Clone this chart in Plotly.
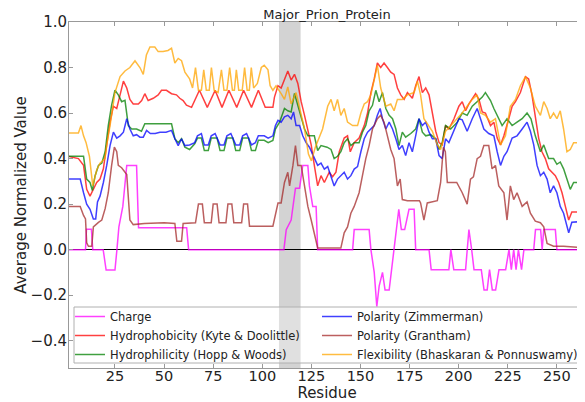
import plotly.graph_objects as go

# ---------------- data ----------------
title_text = "Major_Prion_Protein"
x_ticks = [25, 50, 75, 100, 125, 150, 175, 200, 225, 250]
y_ticks = [-0.4, -0.2, 0.0, 0.2, 0.4, 0.6, 0.8, 1.0]
y_tick_labels = ["\u22120.4", "\u22120.2", "0.0", "0.2", "0.4", "0.6", "0.8", "1.0"]
highlight_region = [108.5, 119.5]

charge_x = [1, 10, 10.5, 13, 13.7, 19, 20.5, 25, 26, 27, 29, 30, 31, 36, 37, 61.5, 62.5,
            111, 112.2, 114.7, 116.9, 119, 120.6, 123.2, 124, 125.7, 127.4, 128.2, 146, 146.8,
            154.4, 155.3, 157, 158.3, 159.5, 161.2, 162.5, 164.6, 167.1, 169.5, 170.8, 172.5,
            174.7, 177.3, 178.1, 184.9, 186, 195, 196, 197.5, 203.5, 205.2, 206.6, 207.8, 211.5,
            212.9, 214.5, 215.7, 217.1, 218.8, 220.5, 223.9, 225.6, 226.8, 228, 229.2, 230.4,
            232, 233.2, 238.2, 239.1, 241.7, 242.5, 243.3, 249.2, 250, 264.3]
charge_y = [0, 0, 0.09, 0.09, 0, 0, -0.09, -0.09, 0, 0.10, 0.19, 0.28, 0.37, 0.37, 0.096, 0.096, 0,
            0, 0.088, 0.13, 0.27, 0.27, 0.37, 0.37, 0.28, 0.19, 0.19, 0, 0, 0.088,
            0.088, 0, -0.10, -0.25, -0.16, -0.10, -0.177, -0.177, 0, 0.177, 0.088, 0.088,
            0.177, 0.177, 0, 0, -0.088, -0.088, 0, -0.088, -0.088, 0.088, 0, -0.088, -0.088,
            -0.177, -0.177, -0.088, -0.177, -0.177, -0.088, -0.088, 0, -0.088, 0, -0.088, 0,
            -0.088, 0, 0, 0.088, 0.088, 0, 0.088, 0.088, 0, 0]

hydrophobicity_x = [1, 6.4, 9, 10.6, 12.3, 14, 15.7, 17.4, 19.1, 20.8, 22.5, 24.2, 25.9, 27.6,
                    29.3, 31, 32.6, 34.3, 36.9, 38.6, 40.2, 41.9, 44.5, 47, 48.7, 51.2, 53.8,
                    56.3, 58, 59.7, 61.4, 64, 68, 72, 76, 79.5, 83, 87, 90.5, 94.5, 98, 101.5,
                    105.4, 106.2, 108, 109.6, 111.3, 113, 114.7, 116.4, 118.1, 119.8, 121.5,
                    123.2, 124.9, 126.5, 128.2, 129.9, 131.6, 134.1, 135.8, 137.5, 139.2, 141.7,
                    143.4, 144.8, 146.8, 149.3, 151.9, 153.6, 155.3, 157, 158.6, 160.3, 162,
                    163.7, 165.4, 167.1, 168.8, 170.5, 172.2, 173.9, 176.4, 178.1, 179.8, 181.5,
                    183.2, 184.9, 186.6, 188.3, 190, 191.6, 193.3, 195, 197.6, 200.1, 201.8,
                    203.5, 205.2, 206.9, 208.6, 210.3, 212, 213.6, 216.2, 217.9, 219.6, 221.3,
                    223, 225.5, 227.2, 228.9, 231.4, 234, 235.6, 237.3, 239, 240.7, 242.4, 244.1,
                    245.8, 247.5, 249.2, 250.9, 252.6, 254.3, 256, 257.6, 264.3]
hydrophobicity_y = [0.41, 0.40, 0.37, 0.265, 0.235, 0.265, 0.295, 0.31, 0.355, 0.46, 0.56, 0.63,
                    0.62, 0.68, 0.74, 0.71, 0.66, 0.64, 0.64, 0.655, 0.685, 0.655, 0.665, 0.68,
                    0.70, 0.70, 0.685, 0.68, 0.665, 0.655, 0.635, 0.625, 0.70, 0.625, 0.70, 0.625,
                    0.70, 0.625, 0.70, 0.625, 0.70, 0.625, 0.625, 0.67, 0.72, 0.71, 0.75, 0.785,
                    0.745, 0.77, 0.73, 0.65, 0.59, 0.52, 0.46, 0.37, 0.28, 0.325, 0.295, 0.34,
                    0.32, 0.34, 0.43, 0.49, 0.50, 0.43, 0.47, 0.49, 0.545, 0.60, 0.69, 0.75, 0.82,
                    0.80, 0.82, 0.80, 0.78, 0.77, 0.71, 0.68, 0.66, 0.69, 0.665, 0.72, 0.76, 0.69,
                    0.71, 0.68, 0.59, 0.52, 0.47, 0.46, 0.545, 0.53, 0.575, 0.63, 0.65, 0.61, 0.64,
                    0.66, 0.685, 0.66, 0.605, 0.60, 0.545, 0.56, 0.49, 0.46, 0.50, 0.575, 0.63,
                    0.65, 0.69, 0.76, 0.75, 0.68, 0.575, 0.49, 0.43, 0.40, 0.355, 0.34, 0.325,
                    0.295, 0.25, 0.19, 0.13, 0.165, 0.165]

hydrophilicity_x = [1, 9, 10.6, 12.3, 13.5, 14.9, 16.6, 18.3, 20, 21.6, 23.3, 25, 26.7, 28.4,
                    30.1, 31.8, 33.5, 36, 38.5, 40.2, 53.8, 55.5, 57.2, 58.9, 60.6, 63, 65.6,
                    67, 69, 70.5, 72.5, 74, 77, 78.5, 80.5, 82, 85, 86.5, 88.5, 90, 93, 94.5,
                    96.5, 98, 101, 103, 105.4, 106.7, 108.8, 111.3, 113, 114.7, 116.4, 118.1,
                    119.8, 121.5, 123.2, 126.5, 128.2, 129.9, 133, 135, 136.6, 138.3, 140,
                    141.7, 143.4, 145.1, 146.8, 149.3, 151, 152.7, 154.4, 156.1, 157.8, 159.5,
                    161.2, 162.9, 164.6, 166.3, 168, 169.6, 171.3, 173, 175.6, 178.1, 179.8,
                    181.5, 183.2, 185.7, 188.3, 190, 191.6, 193.3, 195.9, 199.3, 201.8, 204.3,
                    206.9, 209.4, 212, 213.6, 216.2, 217.9, 220.4, 222.1, 224.6, 227.2, 229.7,
                    232.3, 234.8, 236.8, 239, 241.6, 243.3, 245.8, 248.3, 250, 251.7, 253.4,
                    255.1, 256.8, 258.5, 264.3]
hydrophilicity_y = [0.41, 0.41, 0.31, 0.295, 0.26, 0.325, 0.37, 0.38, 0.43, 0.545, 0.635, 0.70,
                    0.68, 0.65, 0.656, 0.545, 0.53, 0.53, 0.52, 0.553, 0.553, 0.487, 0.47, 0.487,
                    0.45, 0.44, 0.465, 0.49, 0.49, 0.435, 0.435, 0.49, 0.49, 0.435, 0.435, 0.49,
                    0.49, 0.435, 0.435, 0.49, 0.49, 0.435, 0.435, 0.48, 0.48, 0.47, 0.48, 0.53,
                    0.56, 0.62, 0.61, 0.605, 0.686, 0.634, 0.575, 0.53, 0.50, 0.50, 0.435, 0.457,
                    0.45, 0.44, 0.40, 0.41, 0.43, 0.47, 0.487, 0.457, 0.47, 0.47, 0.516, 0.545,
                    0.61, 0.634, 0.70, 0.65, 0.69, 0.62, 0.59, 0.575, 0.53, 0.457, 0.516, 0.494,
                    0.51, 0.53, 0.575, 0.516, 0.50, 0.505, 0.487, 0.44, 0.47, 0.545, 0.53, 0.56,
                    0.60, 0.59, 0.63, 0.65, 0.67, 0.69, 0.655, 0.62, 0.575, 0.545, 0.575, 0.545,
                    0.56, 0.575, 0.60, 0.575, 0.50, 0.43, 0.46, 0.40, 0.40, 0.375, 0.385, 0.355,
                    0.31, 0.265, 0.295, 0.295]

polarity_z_x = [1, 7.3, 9, 10.6, 12.3, 14, 15.2, 16.1, 17.4, 19.1, 20.8, 22.5, 24.2, 25.9, 27.6,
                29.3, 31, 32.6, 34.3, 36, 37.7, 39.4, 41.1, 43, 45.5, 47.9, 51, 53.8, 55.5, 57.2,
                58.9, 60.6, 63, 65.6, 67, 69, 70.5, 72.5, 74, 76, 77, 78.5, 80.5, 82, 84, 86.5,
                88.5, 90, 92, 94.5, 96.5, 98, 101, 103, 105.4, 106.7, 108, 109.6, 111.3, 113,
                114.7, 115.9, 117.2, 119, 120.6, 122.3, 124, 126, 128.2, 129.9, 131.6, 133.3,
                135, 136.6, 138.3, 140, 141.7, 143.4, 145.1, 146.8, 148.5, 150.2, 151.9, 153.6,
                155.3, 157, 158.6, 160, 161.2, 162.9, 164.6, 166.3, 168, 169.6, 171.3, 173,
                174.7, 176.4, 178.1, 179.8, 181.5, 183.2, 184.9, 186.6, 188.3, 190, 191.6,
                193.3, 195, 197.6, 200.1, 201.8, 204.3, 206.9, 209.4, 211.1, 212.8, 215.3,
                217.9, 219.6, 221.3, 223, 224.6, 227.2, 229.7, 232.3, 234.8, 236.5, 238.2,
                239.9, 241.6, 243.3, 245, 246.6, 248.3, 250, 251.7, 253.4, 256, 257.6, 264.3]
polarity_z_y = [0.31, 0.31, 0.25, 0.20, 0.177, 0.135, 0.135, 0.21, 0.235, 0.295, 0.37, 0.457,
                0.516, 0.49, 0.50, 0.516, 0.575, 0.53, 0.50, 0.505, 0.494, 0.494, 0.524, 0.51,
                0.51, 0.516, 0.516, 0.524, 0.487, 0.457, 0.487, 0.457, 0.46, 0.47, 0.50, 0.51,
                0.46, 0.46, 0.50, 0.51, 0.49, 0.46, 0.46, 0.50, 0.51, 0.46, 0.46, 0.50, 0.51,
                0.46, 0.47, 0.50, 0.50, 0.49, 0.50, 0.545, 0.568, 0.56, 0.583, 0.59, 0.575,
                0.605, 0.545, 0.545, 0.50, 0.47, 0.45, 0.41, 0.37, 0.38, 0.354, 0.365, 0.324,
                0.28, 0.31, 0.325, 0.34, 0.31, 0.325, 0.354, 0.365, 0.43, 0.487, 0.516, 0.53,
                0.545, 0.59, 0.62, 0.575, 0.53, 0.56, 0.53, 0.487, 0.44, 0.457, 0.413, 0.47,
                0.43, 0.50, 0.575, 0.545, 0.56, 0.516, 0.487, 0.487, 0.413, 0.40, 0.487, 0.47,
                0.52, 0.575, 0.57, 0.52, 0.575, 0.62, 0.575, 0.53, 0.51, 0.50, 0.43, 0.37,
                0.41, 0.43, 0.49, 0.50, 0.53, 0.56, 0.52, 0.46, 0.37, 0.325, 0.34, 0.31, 0.25,
                0.28, 0.25, 0.19, 0.16, 0.074, 0.12, 0.125]

polarity_g_x = [1, 7.3, 9, 10, 10.6, 11.5, 13.2, 14, 16.6, 18.3, 20, 21.6, 23.3, 24.7, 25.9,
                26.7, 28.4, 30.1, 31, 32.6, 34.3, 40, 50, 55.5, 56.5, 58.9, 59.7, 66, 67.5,
                69.5, 70.5, 74, 75, 77, 78, 81.5, 82.5, 84.5, 85.5, 89.5, 90.5, 92.5, 93.5,
                105.4, 108, 109.6, 111.3, 113, 113.9, 115.6, 116.9, 118.1, 119.8, 121.5, 123.2,
                124.9, 126.5, 128.2, 140, 141.7, 143.4, 145.1, 146.8, 149.3, 151, 152.7, 154.4,
                156.1, 158.6, 160.3, 162, 163.7, 165.4, 167.1, 168.8, 170.2, 171.3, 173.9, 180,
                180.6, 182.3, 184, 189.1, 190.8, 192.2, 193.2, 194.2, 199, 201.8, 204.3, 206,
                207.5, 209.4, 211.1, 212.8, 215.3, 217, 218.7, 220.4, 223, 224.6, 226.3, 228,
                229.7, 232.3, 234.8, 236.5, 239, 241.6, 243.3, 245, 248.3, 253.4, 264.3]
polarity_g_y = [0.19, 0.19, 0.15, 0.135, 0.03, 0.015, 0.015, 0.10, 0.12, 0.13, 0.18, 0.25, 0.37,
                0.45, 0.43, 0.37, 0.36, 0.34, 0.33, 0.13, 0.11, 0.115, 0.118, 0.115, 0.037,
                0.037, 0.115, 0.118, 0.20, 0.20, 0.118, 0.118, 0.20, 0.20, 0.118, 0.118, 0.20,
                0.20, 0.118, 0.118, 0.20, 0.20, 0.103, 0.103, 0.205, 0.205, 0.295, 0.34, 0.28,
                0.37, 0.457, 0.37, 0.37, 0.28, 0.19, 0.13, 0.074, 0.007, 0.007, 0.074, 0.10,
                0.16, 0.19, 0.25, 0.325, 0.40, 0.457, 0.53, 0.575, 0.59, 0.56, 0.50, 0.44,
                0.40, 0.28, 0.31, 0.22, 0.215, 0.215, 0.205, 0.13, 0.205, 0.215, 0.295, 0.45,
                0.43, 0.295, 0.295, 0.25, 0.20, 0.31, 0.32, 0.40, 0.41, 0.457, 0.457, 0.355,
                0.37, 0.28, 0.25, 0.13, 0.28, 0.22, 0.25, 0.19, 0.21, 0.16, 0.125, 0.118, 0.10,
                0.027, 0.015, 0.015, 0.007]

flexibility_x = [1, 6.4, 7.7, 9, 10.3, 12, 13.7, 15.7, 17.4, 19.9, 21, 22.5, 25, 27.6, 30.1,
                 32.6, 35.2, 37.7, 39.4, 41, 42.8, 45.3, 47, 49.5, 52, 53.8, 55.5, 57.2, 58.9,
                 60.6, 63, 64.5, 66, 67.5, 69, 70.2, 71.5, 73, 74.1, 75.5, 77.5, 79.2, 80.5, 82,
                 83.4, 84.8, 85.8, 86.8, 88, 89.8, 91, 92.3, 93.4, 94.4, 95.6, 97.5, 99.5, 101,
                 102.9, 104, 105.4, 107, 109.6, 111.3, 113, 114.7, 117.2, 119, 121.5, 123.5,
                 125, 127, 129, 130.7, 133.3, 135, 136.6, 138.3, 140, 141.7, 143.4, 146, 148.5,
                 150.2, 151.9, 153.6, 155.3, 157, 158.6, 160.3, 162.9, 165.4, 167.1, 168.8,
                 171.3, 173.9, 177.3, 179, 180.6, 182.3, 184.9, 186.6, 189.1, 190.8, 193.3,
                 195.9, 199.3, 201.8, 204.3, 206.9, 209.4, 211.1, 213.6, 216.2, 218.7, 221.3,
                 223.8, 226.3, 228.9, 231.4, 234, 236.5, 239, 241.6, 243.3, 245, 246.6, 248.3,
                 250, 251.7, 253.4, 255.1, 256.8, 258.5, 264.3]
flexibility_y = [0.512, 0.512, 0.545, 0.50, 0.47, 0.41, 0.28, 0.35, 0.38, 0.40, 0.47, 0.545,
                 0.69, 0.76, 0.785, 0.80, 0.83, 0.80, 0.77, 0.855, 0.89, 0.89, 0.87, 0.87,
                 0.875, 0.885, 0.82, 0.84, 0.83, 0.78, 0.75, 0.71, 0.80, 0.70, 0.70, 0.79, 0.70,
                 0.70, 0.80, 0.70, 0.69, 0.79, 0.70, 0.70, 0.80, 0.70, 0.70, 0.79, 0.70, 0.70,
                 0.80, 0.70, 0.70, 0.80, 0.71, 0.73, 0.80, 0.81, 0.79, 0.72, 0.70, 0.72, 0.685,
                 0.66, 0.715, 0.64, 0.69, 0.62, 0.53, 0.42, 0.39, 0.45, 0.49, 0.53, 0.63, 0.66,
                 0.61, 0.66, 0.59, 0.62, 0.56, 0.545, 0.545, 0.60, 0.64, 0.65, 0.68, 0.75, 0.81,
                 0.71, 0.63, 0.64, 0.61, 0.66, 0.66, 0.68, 0.69, 0.74, 0.68, 0.575, 0.545, 0.52,
                 0.46, 0.44, 0.52, 0.545, 0.575, 0.60, 0.63, 0.66, 0.68, 0.60, 0.59, 0.56,
                 0.575, 0.46, 0.50, 0.63, 0.66, 0.72, 0.76, 0.71, 0.63, 0.59, 0.65, 0.62, 0.575,
                 0.60, 0.575, 0.61, 0.53, 0.43, 0.44, 0.47, 0.47]

# name, x, y, colour, legend column
series = [
    ("Charge", charge_x, charge_y, "#FF00FF", "legend"),
    ("Hydrophobicity (Kyte & Doolittle)", hydrophobicity_x, hydrophobicity_y, "#FF0000", "legend"),
    ("Hydrophilicity (Hopp & Woods)", hydrophilicity_x, hydrophilicity_y, "#008000", "legend"),
    ("Polarity (Zimmerman)", polarity_z_x, polarity_z_y, "#0000FF", "legend2"),
    ("Polarity (Grantham)", polarity_g_x, polarity_g_y, "#A52A2A", "legend2"),
    ("Flexibility (Bhaskaran & Ponnuswamy)", flexibility_x, flexibility_y, "#FFA500", "legend2"),
]

# ---------------- figure ----------------
# The page body keeps its default 8 px margin, so the figure is 8 px smaller
# and all margins are measured from the figure's own corner.
FONT = "DejaVu Sans"
TXT = "#222222"
W, H = 577, 394
PLOT_H = 346.0
PLOT_W = 516.0

fig = go.Figure()
for name, xs, ys, color, leg in series:
    fig.add_trace(go.Scatter(
        x=xs, y=ys, mode="lines", name=name, legend=leg,
        line=dict(color=color, width=1.5), opacity=0.75,
    ))

fig.add_shape(type="rect", xref="x", yref="paper",
              x0=highlight_region[0], x1=highlight_region[1], y0=0, y1=1,
              fillcolor="#d3d3d3", line=dict(width=0), layer="below")

# legend frame shared by both legend columns
fig.add_shape(type="rect", xref="paper", yref="paper",
              x0=5 / PLOT_W, x1=514 / PLOT_W, y0=5 / PLOT_H, y1=61 / PLOT_H,
              fillcolor="rgba(255,255,255,0.3)", line=dict(color="#b0b0b0", width=1),
              layer="above")

legend_common = dict(orientation="v", yanchor="top", xanchor="left",
                     xref="paper", yref="paper", y=66 / PLOT_H,
                     bgcolor="rgba(0,0,0,0)", borderwidth=0,
                     font=dict(family=FONT, size=11.5, color=TXT),
                     tracegroupgap=0, traceorder="normal", itemwidth=30)

fig.update_layout(
    width=W, height=H,
    margin=dict(l=61, r=0, t=14, b=34, autoexpand=False),
    paper_bgcolor="white", plot_bgcolor="white",
    font=dict(family=FONT, size=15, color=TXT),
    title=dict(text=title_text, x=0.5, xref="paper", xanchor="center",
               y=1 - 6 / H, yref="container", yanchor="middle",
               font=dict(family=FONT, size=13, color=TXT)),
    showlegend=True,
    legend=dict(x=1 / PLOT_W, **legend_common),
    legend2=dict(x=248 / PLOT_W, **legend_common),
)

fig.update_xaxes(range=[1.6, 264.3], tickvals=x_ticks, ticktext=[str(t) for t in x_ticks],
                 ticks="inside", ticklen=4, tickcolor="#999999", ticklabelstandoff=-5,
                 showline=True, linecolor="#999999", linewidth=1, mirror="ticks",
                 showgrid=False, zeroline=False,
                 tickfont=dict(family=FONT, size=14.5, color=TXT),
                 title=dict(text="Residue", standoff=8,
                            font=dict(family=FONT, size=15, color=TXT)))
fig.update_yaxes(range=[-0.52, 1.0], tickvals=y_ticks, ticktext=y_tick_labels,
                 ticks="inside", ticklen=4, tickcolor="#999999", ticklabelstandoff=-2,
                 showline=True, linecolor="#999999", linewidth=1,
                 showgrid=False, zeroline=True, zerolinecolor="black", zerolinewidth=1,
                 tickfont=dict(family=FONT, size=15, color=TXT),
                 title=dict(text="Average Normalized Value", standoff=0,
                            font=dict(family=FONT, size=15, color=TXT)))

fig.write_html("out.html")
